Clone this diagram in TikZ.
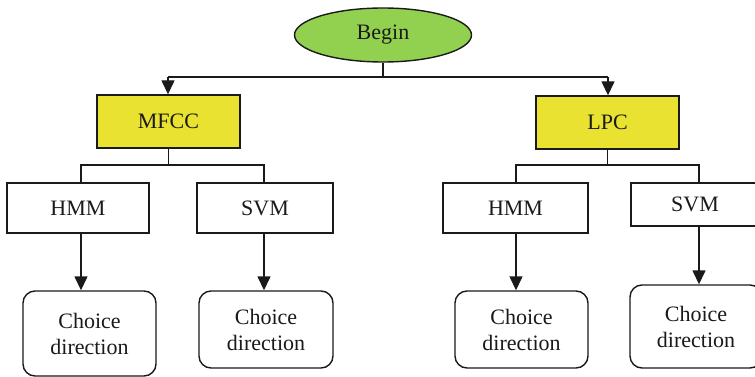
\documentclass[tikz,border=0pt]{standalone}
\usepackage{fontspec}
\setmainfont{Liberation Serif}
\usetikzlibrary{shapes.geometric,arrows.meta}
\definecolor{begingreen}{HTML}{92D050}
\definecolor{boxyellow}{HTML}{E9E230}
\definecolor{linecol}{HTML}{1A1A1A}
\tikzset{
  every node/.style={font=\fontsize{22}{26}\selectfont, text=linecol, align=center, inner sep=0pt},
  ln/.style={draw=linecol, line width=1.4pt},
  arr/.style={ln, -{Triangle[length=14pt,width=13pt]}},
  startnode/.style={ln, ellipse, fill=begingreen},
  featbox/.style={ln, rectangle, fill=boxyellow},
  clsbox/.style={ln, rectangle, fill=white},
  choicebox/.style={ln, rectangle, rounded corners=12pt, fill=white},
}
\begin{document}
\begin{tikzpicture}[x=1pt,y=-1pt]
\useasboundingbox (0,0) rectangle (755,377);
\begin{scope}
\clip (0,0) rectangle (755,377);
\node[startnode, minimum width=177pt, minimum height=54pt] (begin) at (383,35) {Begin};
\node[featbox, minimum width=143pt, minimum height=53pt] (mfcc) at (168.5,121.5) {MFCC};
\node[featbox, minimum width=143pt, minimum height=53pt] (lpc) at (607.5,122.5) {LPC};
\node[clsbox, minimum width=142pt, minimum height=50pt] (hmm1) at (78,208) {HMM};
\node[clsbox, minimum width=136pt, minimum height=50pt] (svm1) at (265,208) {SVM};
\node[clsbox, minimum width=145pt, minimum height=50pt] (hmm2) at (515.5,208) {HMM};
\node[clsbox, minimum width=128pt, minimum height=43pt] (svm2) at (695,204.5) {SVM};
\node[choicebox, minimum width=133pt, minimum height=85pt] (ch1) at (89.5,333.5) {Choice\\direction};
\node[choicebox, minimum width=134pt, minimum height=77pt] (ch2) at (266,329.5) {Choice\\direction};
\node[choicebox, minimum width=133pt, minimum height=77pt] (ch3) at (521.5,329.5) {Choice\\direction};
\node[choicebox, minimum width=132pt, minimum height=83pt] (ch4) at (696,326.5) {Choice\\direction};

% top bus
\coordinate (t1) at (168,77);
\coordinate (t2) at (608,77);
\draw[ln] (begin.south) -- (begin.south |- t1);
\draw[ln] (t1) -- (t2);
\draw[arr] (t1) -- (t1 |- mfcc.north);
\draw[arr] (t2) -- (t2 |- lpc.north);

% MFCC branch
\coordinate (m1) at (81,165);
\coordinate (m2) at (264,165);
\draw[ln] (mfcc.south) -- (mfcc.south |- m1);
\draw[ln] (m1 |- hmm1.north) -- (m1) -- (m2) -- (m2 |- svm1.north);

% LPC branch
\coordinate (l1) at (516,165);
\coordinate (l2) at (699,165);
\draw[ln] (lpc.south) -- (lpc.south |- l1);
\draw[ln] (l1 |- hmm2.north) -- (l1) -- (l2) -- (l2 |- svm2.north);

% to choices
\draw[arr] (m1 |- hmm1.south) -- (m1 |- ch1.north);
\draw[arr] (m2 |- svm1.south) -- (m2 |- ch2.north);
\draw[arr] (l1 |- hmm2.south) -- (l1 |- ch3.north);
\draw[arr] (l2 |- svm2.south) -- (l2 |- ch4.north);
\end{scope}
\end{tikzpicture}
\end{document}
